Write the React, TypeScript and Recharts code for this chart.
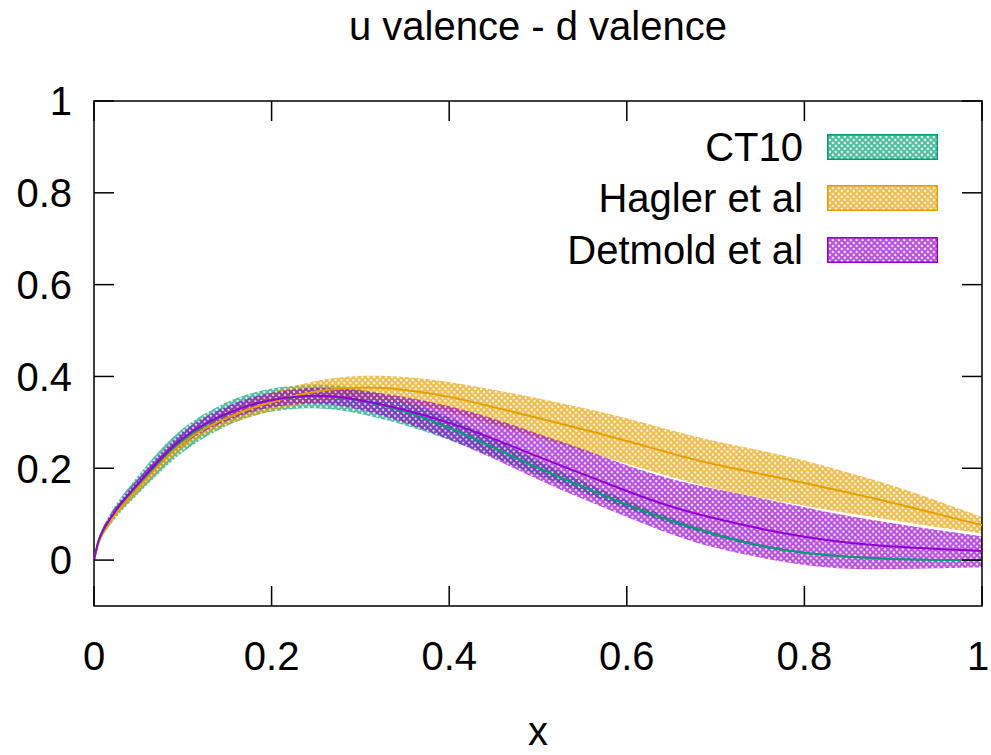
import { ComposedChart, Area, Line, XAxis, YAxis, ReferenceArea, Label } from 'recharts';

// x grid shared by all three bands
const xs = [0, 0.005, 0.01, 0.025, 0.05, 0.075, 0.1, 0.125, 0.15, 0.175, 0.2, 0.25, 0.3, 0.35, 0.4, 0.45, 0.5, 0.55, 0.6, 0.65, 0.7, 0.75, 0.8, 0.85, 0.9, 0.95, 1];

const ct10Mid = [0, 0.045, 0.065, 0.11, 0.165, 0.218, 0.263, 0.295, 0.32, 0.338, 0.35, 0.36, 0.35, 0.325, 0.29, 0.245, 0.2, 0.16, 0.12, 0.085, 0.055, 0.03, 0.015, 0.007, 0.002, 0, 0];
const ct10Hi = [0, 0.05, 0.074, 0.125, 0.185, 0.243, 0.289, 0.32, 0.346, 0.363, 0.375, 0.385, 0.375, 0.349, 0.312, 0.265, 0.216, 0.172, 0.129, 0.091, 0.059, 0.033, 0.017, 0.009, 0.004, 0.002, 0.002];
const ct10Lo = [0, 0.04, 0.056, 0.095, 0.145, 0.193, 0.237, 0.268, 0.294, 0.312, 0.325, 0.335, 0.32, 0.295, 0.262, 0.225, 0.184, 0.148, 0.111, 0.079, 0.051, 0.027, 0.013, 0.005, 0, -0.002, -0.002];

const haglerMid = [0, 0.04, 0.06, 0.105, 0.158, 0.212, 0.258, 0.288, 0.31, 0.33, 0.345, 0.37, 0.378, 0.372, 0.357, 0.333, 0.31, 0.285, 0.26, 0.232, 0.207, 0.188, 0.168, 0.147, 0.125, 0.1, 0.076];
const haglerHi = [0, 0.043, 0.065, 0.112, 0.168, 0.224, 0.271, 0.301, 0.326, 0.347, 0.365, 0.393, 0.403, 0.4, 0.389, 0.371, 0.353, 0.332, 0.31, 0.282, 0.258, 0.24, 0.218, 0.19, 0.163, 0.129, 0.094];
const haglerLo = [0, 0.037, 0.055, 0.098, 0.148, 0.2, 0.245, 0.275, 0.294, 0.312, 0.325, 0.347, 0.353, 0.344, 0.325, 0.295, 0.267, 0.238, 0.21, 0.18, 0.155, 0.136, 0.118, 0.102, 0.087, 0.071, 0.058];

const detmoldMid = [0, 0.045, 0.066, 0.112, 0.168, 0.222, 0.268, 0.298, 0.32, 0.338, 0.35, 0.362, 0.35, 0.328, 0.3, 0.265, 0.225, 0.188, 0.15, 0.115, 0.09, 0.068, 0.05, 0.037, 0.029, 0.024, 0.02];
const detmoldHi = [0, 0.049, 0.072, 0.12, 0.178, 0.234, 0.282, 0.313, 0.336, 0.354, 0.366, 0.379, 0.37, 0.356, 0.336, 0.309, 0.275, 0.243, 0.205, 0.175, 0.155, 0.135, 0.115, 0.095, 0.08, 0.065, 0.052];
const detmoldLo = [0, 0.041, 0.06, 0.104, 0.158, 0.21, 0.254, 0.283, 0.304, 0.322, 0.334, 0.345, 0.33, 0.3, 0.264, 0.221, 0.175, 0.133, 0.094, 0.055, 0.025, 0.005, -0.012, -0.02, -0.02, -0.018, -0.016];

const xTicks = [0, 0.2, 0.4, 0.6, 0.8, 1];
const yTicks = [0, 0.2, 0.4, 0.6, 0.8, 1];

const series = [
  { key: 'ct10', name: 'CT10', color: '#009e73' },
  { key: 'hagler', name: 'Hagler et al', color: '#e69f00' },
  { key: 'detmold', name: 'Detmold et al', color: '#9400d3' },
];

const data = xs.map((x, i) => ({
  x,
  ct10: ct10Mid[i],
  ct10Band: [ct10Lo[i], ct10Hi[i]],
  hagler: haglerMid[i],
  haglerBand: [haglerLo[i], haglerHi[i]],
  detmold: detmoldMid[i],
  detmoldBand: [detmoldLo[i], detmoldHi[i]],
}));

const W = 991;
const H = 755;
const PLOT_LEFT = 94;
const PLOT_RIGHT = 982;
const PLOT_TOP = 101;
const PLOT_BOTTOM = 606;
const TICK_LEN = 20;
const FONT = '"Liberation Sans", Arial, sans-serif';

function Hatch({ id, color }: { id: string; color: string }) {
  return (
    <pattern id={id} width="4.2" height="4.2" patternUnits="userSpaceOnUse" patternTransform="rotate(45)">
      <path
        d="M0 0H4.2V4.2H0Z M2.1 0.95A1.15 1.15 0 1 0 2.101 0.95Z"
        fillRule="evenodd"
        fill={color}
        fillOpacity={0.68}
      />
    </pattern>
  );
}

function XTick({ x, payload }: any) {
  // the last label sits on the page edge, nudge it in so it stays whole
  const tx = Math.min(x, W - 13);
  return (
    <g>
      <line x1={x} x2={x} y1={PLOT_BOTTOM} y2={PLOT_BOTTOM - TICK_LEN} stroke="#000" strokeWidth={1.5} />
      <line x1={x} x2={x} y1={PLOT_TOP} y2={PLOT_TOP + TICK_LEN} stroke="#000" strokeWidth={1.5} />
      <text x={tx} y={PLOT_BOTTOM + 64} textAnchor="middle" fontSize={40} fill="#000" fontFamily={FONT}>
        {String(payload.value)}
      </text>
    </g>
  );
}

function YTick({ y, payload }: any) {
  return (
    <g>
      <line x1={PLOT_LEFT} x2={PLOT_LEFT + TICK_LEN} y1={y} y2={y} stroke="#000" strokeWidth={1.5} />
      <line x1={PLOT_RIGHT} x2={PLOT_RIGHT - TICK_LEN} y1={y} y2={y} stroke="#000" strokeWidth={1.5} />
      <text x={PLOT_LEFT - 22} y={y} dy="0.36em" textAnchor="end" fontSize={40} fill="#000" fontFamily={FONT}>
        {String(payload.value)}
      </text>
    </g>
  );
}

function KeyBox() {
  return (
    <div style={{ position: 'absolute', top: 121, right: W - 938, fontFamily: FONT }}>
      {series.map((s) => (
        <div key={s.key} style={{ display: 'flex', alignItems: 'center', justifyContent: 'flex-end', height: 51.5 }}>
          <span style={{ fontSize: 40, lineHeight: '40px', color: '#000' }}>{s.name}</span>
          <svg width={111} height={26} style={{ marginLeft: 24, display: 'block' }}>
            <defs>
              <Hatch id={`key-${s.key}`} color={s.color} />
            </defs>
            <rect x={0.75} y={0.75} width={109.5} height={24.5} fill={`url(#key-${s.key})`} stroke={s.color} strokeWidth={1.5} />
          </svg>
        </div>
      ))}
    </div>
  );
}

export default function App() {
  return (
    <div style={{ position: 'absolute', left: 0, top: 0, width: W, height: H, background: '#fff', fontFamily: FONT }}>
      <div
        style={{
          position: 'absolute',
          top: 6,
          left: PLOT_LEFT,
          width: PLOT_RIGHT - PLOT_LEFT,
          textAlign: 'center',
          fontSize: 40,
          lineHeight: '40px',
          color: '#000',
        }}
      >
        u valence - d valence
      </div>
      <ComposedChart width={W} height={H} data={data} margin={{ top: PLOT_TOP, right: W - PLOT_RIGHT, bottom: 0, left: 0 }}>
        <defs>
          {series.map((s) => (
            <Hatch key={s.key} id={`hatch-${s.key}`} color={s.color} />
          ))}
        </defs>
        <XAxis
          dataKey="x"
          type="number"
          domain={[0, 1]}
          ticks={xTicks}
          interval={0}
          height={H - PLOT_BOTTOM}
          axisLine={false}
          tickLine={false}
          tickSize={0}
          tickMargin={0}
          tick={(p: any) => <XTick {...p} />}
        >
          <Label value="x" position="insideBottom" offset={10} style={{ fontSize: 40, fill: '#000', fontFamily: FONT }} />
        </XAxis>
        <YAxis
          type="number"
          domain={[-0.1, 1]}
          ticks={yTicks}
          interval={0}
          width={PLOT_LEFT}
          allowDataOverflow
          axisLine={false}
          tickLine={false}
          tickSize={0}
          tickMargin={0}
          tick={(p: any) => <YTick {...p} />}
        />
        {series.map((s) => (
          <Area
            key={`${s.key}-band`}
            dataKey={`${s.key}Band`}
            type="basis"
            stroke="none"
            fill={`url(#hatch-${s.key})`}
            fillOpacity={1}
            isAnimationActive={false}
            activeDot={false}
          />
        ))}
        {series.map((s) => (
          <Line
            key={`${s.key}-line`}
            dataKey={s.key}
            type="basis"
            stroke={s.color}
            strokeWidth={2}
            dot={false}
            activeDot={false}
            isAnimationActive={false}
          />
        ))}
        <ReferenceArea x1={0} x2={1} y1={-0.1} y2={1} fill="none" fillOpacity={0} stroke="#000" strokeWidth={1.5} />
      </ComposedChart>
      <KeyBox />
    </div>
  );
}
